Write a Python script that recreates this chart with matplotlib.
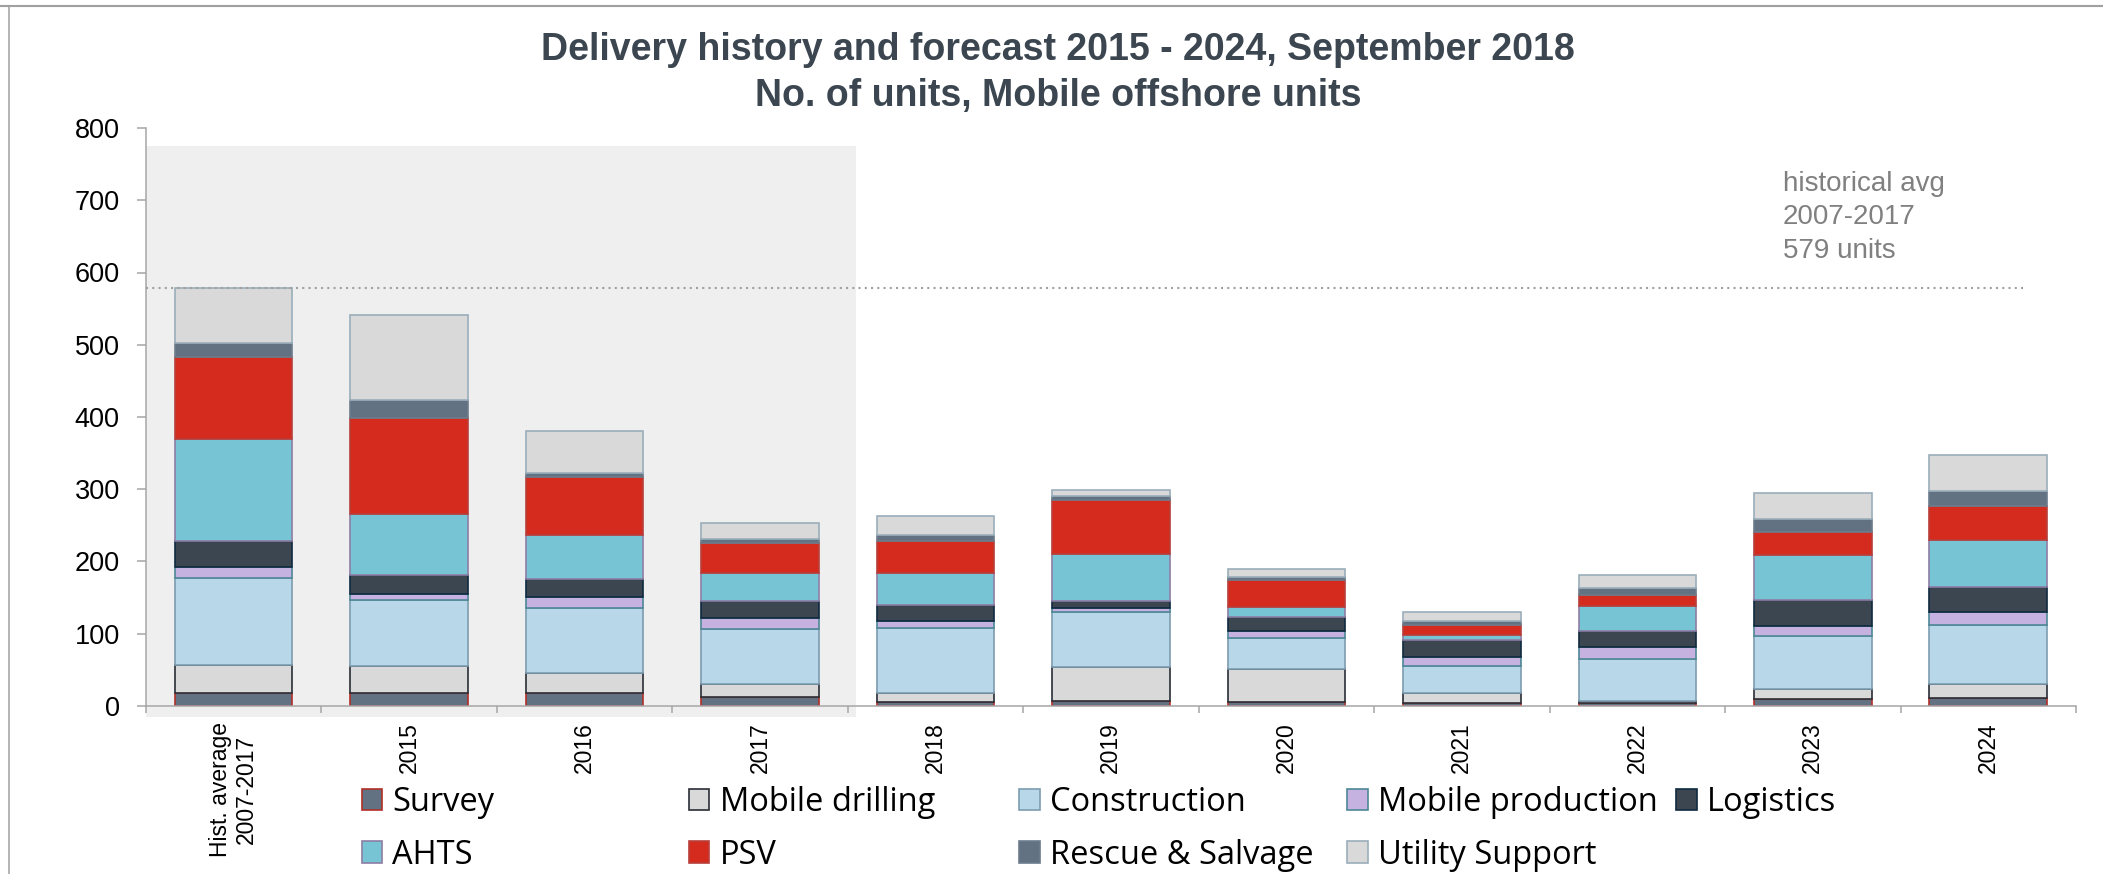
import numpy as np
import matplotlib.pyplot as plt
from matplotlib.patches import Rectangle
from matplotlib.lines import Line2D

plt.rcParams['font.family'] = ['Liberation Sans', 'DejaVu Sans']

categories = ["Hist. average\n2007-2017", "2015", "2016", "2017", "2018", "2019",
              "2020", "2021", "2022", "2023", "2024"]

survey            = [17, 18, 18, 12,  5,  7,  5,  4,  4,  9, 11]
mobile_drilling   = [40, 37, 27, 18, 12, 47, 46, 14,  2, 14, 19]
construction      = [120, 91, 90, 76, 90, 76, 43, 37, 59, 74, 82]
mobile_production = [15,  9, 16, 15, 11,  6,  9, 13, 16, 13, 18]
logistics         = [36, 26, 25, 24, 22,  9, 20, 23, 22, 36, 35]
ahts              = [141, 84, 60, 39, 44, 65, 14,  7, 35, 63, 65]
psv               = [114, 134, 81, 41, 44, 75, 37, 14, 15, 31, 47]
rescue_salvage    = [19, 25,  5,  6,  8,  5,  4,  5, 10, 19, 21]
utility_support   = [77, 117, 59, 22, 27,  9, 12, 13, 18, 35, 49]

hist_avg = 579

series = [
    ("Survey", survey, "#627283", "#b0302a"),
    ("Mobile drilling", mobile_drilling, "#d9d9d9", "#2a2f36"),
    ("Construction", construction, "#b8d8e9", "#7d9cb0"),
    ("Mobile production", mobile_production, "#c5b2e1", "#4d8797"),
    ("Logistics", logistics, "#3c4651", "#0f2a40"),
    ("AHTS", ahts, "#77c4d4", "#8d7ea6"),
    ("PSV", psv, "#d52b1e", "#b8403a"),
    ("Rescue & Salvage", rescue_salvage, "#627283", "#6d7c8c"),
    ("Utility Support", utility_support, "#d9d9d9", "#9aaebb"),
]

W, H = 2103, 874
fig = plt.figure(figsize=(W / 100, H / 100), dpi=100)
ax = fig.add_axes([145.7 / W, 168.3 / H, (2076 - 145.7) / W, (745.9 - 168.3) / H])
ax.set_facecolor("none")

x = np.arange(len(categories))

# shaded block behind the historical columns
ax.add_patch(Rectangle((-0.5, -15.6), 4.047, 791.2, facecolor="#efefef",
                       edgecolor="none", zorder=0, clip_on=False))

bottom = np.zeros(len(categories))
bars = []
for name, vals, fc, ec in series:
    b = ax.bar(x, vals, width=0.67, bottom=bottom, color=fc, edgecolor=ec,
               linewidth=1.2, label=name, zorder=2)
    bars.append(b)
    bottom += np.array(vals)

ax.plot([-0.5, 10.22], [hist_avg, hist_avg], color="#a0a0a0", lw=1.5,
        linestyle=(0, (1, 2)), zorder=3)
ax.text(8.83, 741, f"historical avg\n2007-2017\n{hist_avg} units", color="#808080",
        fontsize=20, va="top", ha="left", linespacing=1.38)

ax.set_xlim(-0.5, 10.5)
ax.set_ylim(0, 800)
ax.set_yticks(range(0, 801, 100))
ax.set_xticks(x, labels=categories, rotation=90, fontsize=16.5, multialignment="center")
ax.set_xticks(np.arange(-0.5, 11, 1), minor=True)

grey = "#a6a6a6"
for s in ["top", "right"]:
    ax.spines[s].set_visible(False)
for s in ["left", "bottom"]:
    ax.spines[s].set_color(grey)
    ax.spines[s].set_linewidth(1.1)
ax.tick_params(axis="y", length=6.7, width=1.1, color=grey, pad=12, labelsize=19.5)
ax.tick_params(axis="x", which="major", length=0, pad=11.7)
ax.tick_params(axis="x", which="minor", length=5, width=1.1, color=grey)

fig.text(0.503, 1 - 50 / H, "Delivery history and forecast 2015 - 2024, September 2018",
         ha="center", va="center", fontsize=27, weight="bold", color="#3c4650")
fig.text(0.503, 1 - 96 / H, "No. of units, Mobile offshore units",
         ha="center", va="center", fontsize=27, weight="bold", color="#3c4650")

# legend: five fixed-width columns, two rows
col_left = [361.6, 688.9, 1019, 1347, 1676]
for j, xl in enumerate(col_left):
    idx = [j] + ([j + 5] if j + 5 < len(series) else [])
    fig.legend([bars[i] for i in idx], [series[i][0] for i in idx],
               loc="upper left", bbox_to_anchor=(xl / W, 1 - 786 / H),
               frameon=False, prop={"family": "Open Sans", "size": 23.5},
               handlelength=0.63, handleheight=0.63, handletextpad=0.31,
               borderpad=0, borderaxespad=0, labelspacing=0.6)

# frame lines along the top and left edge
fig.add_artist(Line2D([9 / W, 9 / W], [0, 1 - 5.7 / H], transform=fig.transFigure,
                      color="#a0a0a0", lw=1.1))
fig.add_artist(Line2D([0, 1], [1 - 5.7 / H, 1 - 5.7 / H], transform=fig.transFigure,
                      color="#a0a0a0", lw=1.5))

fig.savefig("out.png", dpi=100)
